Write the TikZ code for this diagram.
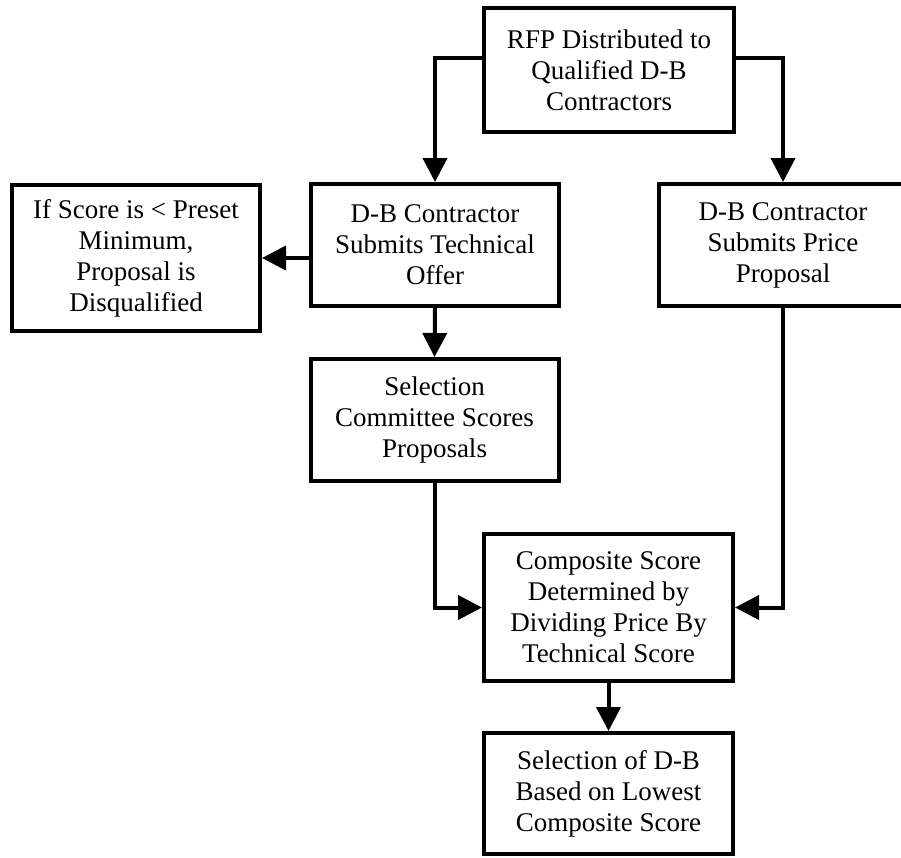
\documentclass[tikz,border=0pt]{standalone}
\usepackage{fontspec}
\setmainfont{Liberation Serif}
\usetikzlibrary{arrows.meta}
\begin{document}
\begin{tikzpicture}[x=1pt,y=-1pt,
  box/.style={draw=black, line width=4pt, fill=white, align=center,
    inner sep=0pt, font=\fontsize{27}{31}\selectfont},
  arr/.style={line width=4pt, -{Triangle[length=24pt,width=24pt]}}]
  \useasboundingbox (0,0) rectangle (901,857);

  % process boxes
  \node[box, minimum width=250pt, minimum height=124pt] (rfp) at (609,70)
    {RFP Distributed to\\Qualified D-B\\Contractors};
  \node[box, minimum width=248pt, minimum height=122pt] (tech) at (435,245)
    {D-B Contractor\\Submits Technical\\Offer};
  \node[box, minimum width=248pt, minimum height=146pt] (disq) at (136,258)
    {If Score is < Preset\\Minimum,\\Proposal is\\Disqualified};
  \node[box, minimum width=248pt, minimum height=122pt] (price) at (783,245)
    {D-B Contractor\\Submits Price\\Proposal};
  \node[box, minimum width=248pt, minimum height=122pt] (comm) at (434.5,420)
    {Selection\\Committee Scores\\Proposals};
  \node[box, minimum width=249pt, minimum height=147pt] (comp) at (608.5,607.5)
    {Composite Score\\Determined by\\Dividing Price By\\Technical Score};
  \node[box, minimum width=249pt, minimum height=121pt] (sel) at (608.5,793.5)
    {Selection of D-B\\Based on Lowest\\Composite Score};

  % connectors
  \draw[arr] ([yshift=12pt]rfp.west) -| (tech.north);
  \draw[arr] ([yshift=12pt]rfp.east) -| (price.north);
  \draw[arr] (tech.west |- disq.east) -- (disq.east);
  \draw[arr] (tech.south) -- (comm.north);
  \draw[arr] (comm.south) |- (comp.west);
  \draw[arr] (price.south) |- (comp.east);
  \draw[arr] (comp.south) -- (sel.north);
\end{tikzpicture}
\end{document}
